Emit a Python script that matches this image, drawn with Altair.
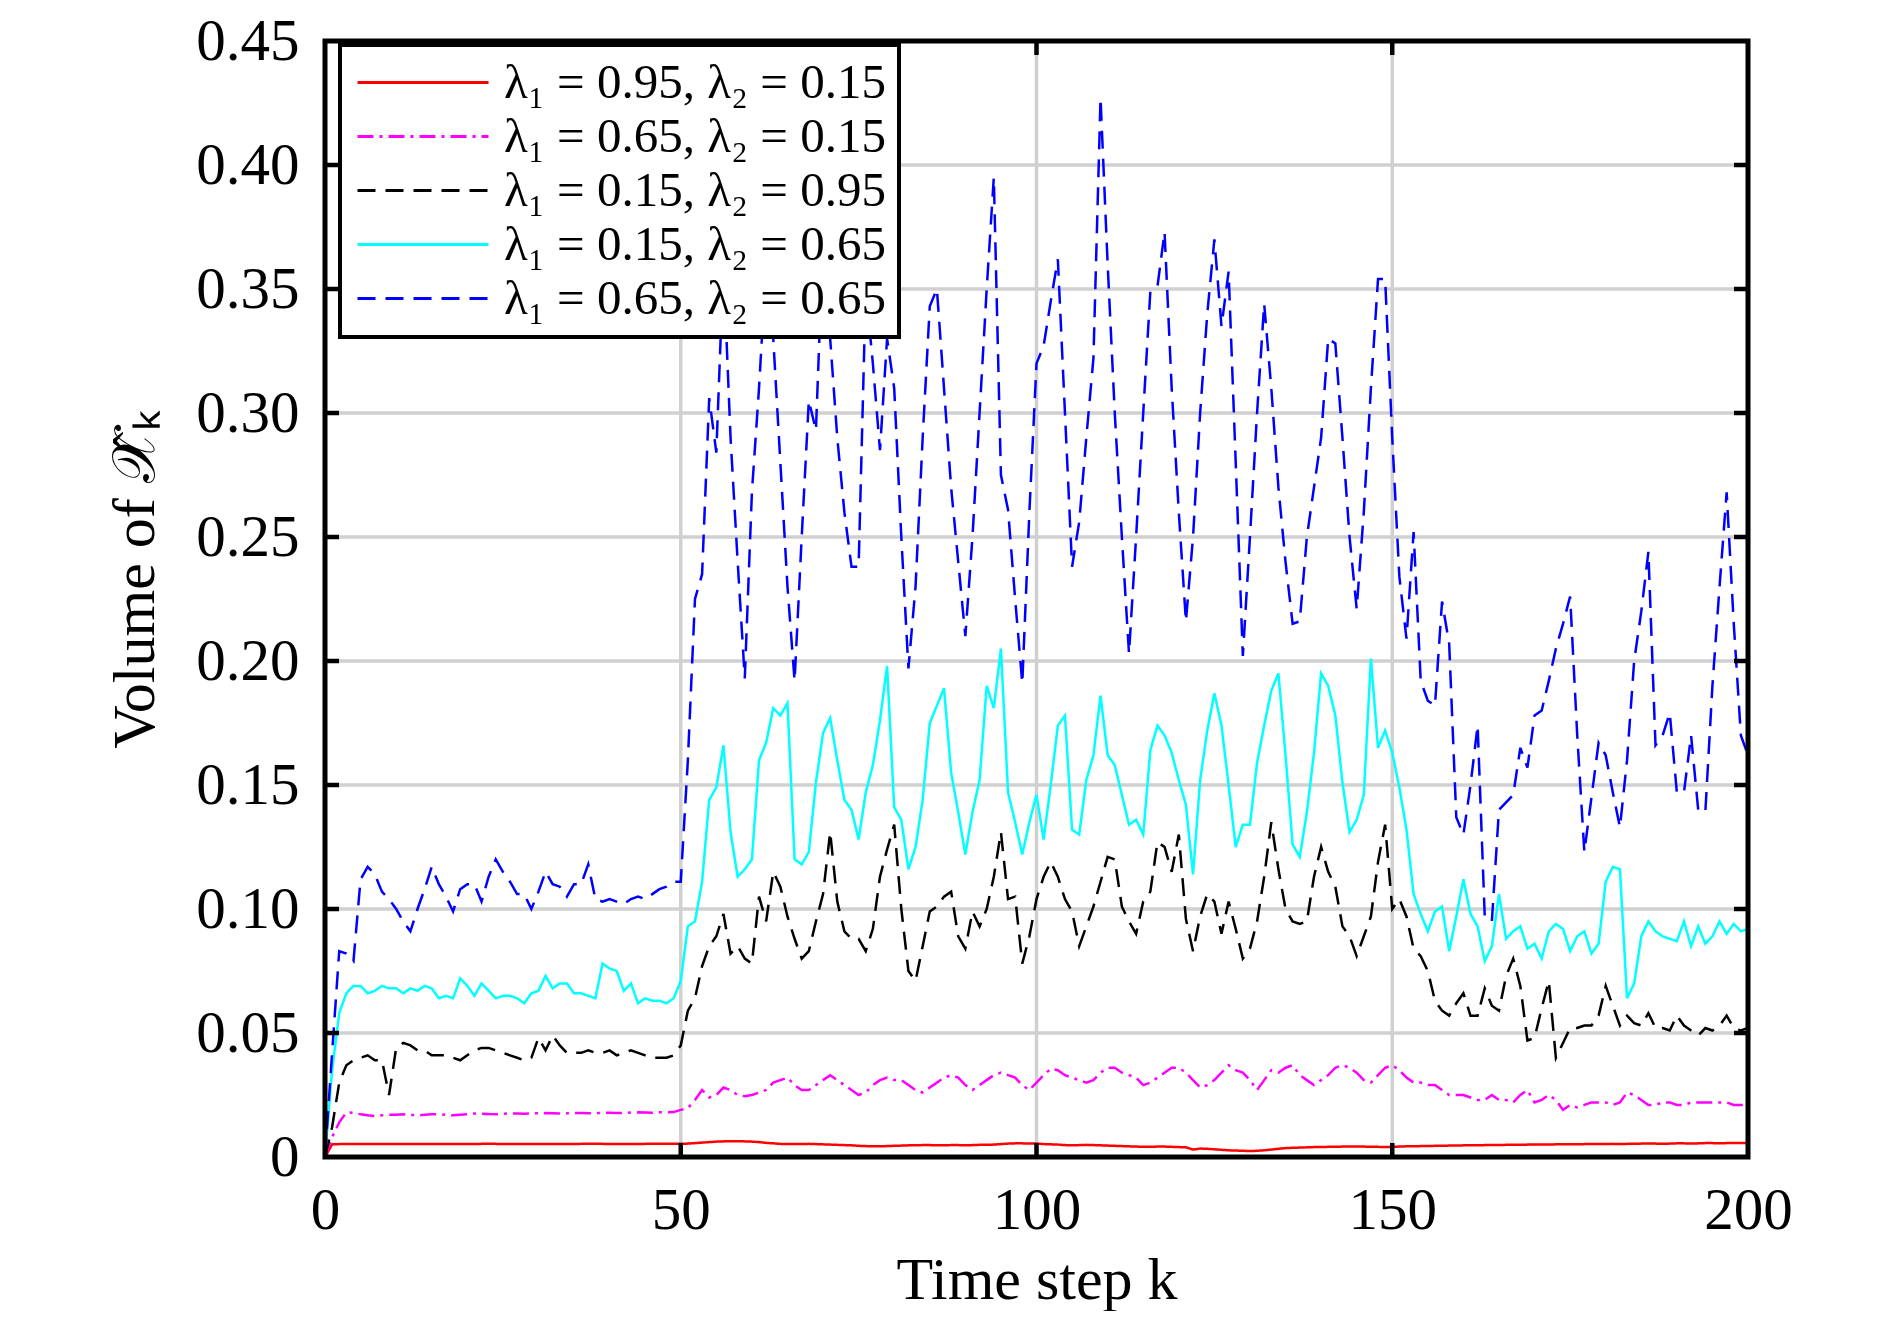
import altair as alt
import pandas as pd

# ---------------- data ----------------
steps = list(range(201))

series_names = [
    "λ₁ = 0.95, λ₂ = 0.15",
    "λ₁ = 0.65, λ₂ = 0.15",
    "λ₁ = 0.15, λ₂ = 0.95",
    "λ₁ = 0.15, λ₂ = 0.65",
    "λ₁ = 0.65, λ₂ = 0.65",
]
series_colors = ["#ff0000", "#ff00ff", "#000000", "#00ffff", "#0000ff"]

red = [
    0, 0.0051, 0.0052, 0.0052, 0.0052, 0.0052, 0.0052, 0.0052, 0.0052, 0.0052,
    0.0052, 0.0052, 0.0052, 0.0052, 0.0052, 0.0052, 0.0052, 0.0052, 0.0052, 0.0052,
    0.0052, 0.0052, 0.0053, 0.0053, 0.0053, 0.0052, 0.0052, 0.0052, 0.0052, 0.0052,
    0.0052, 0.0052, 0.0052, 0.0052, 0.0052, 0.0052, 0.0053, 0.0053, 0.0053, 0.0053,
    0.0052, 0.0052, 0.0052, 0.0052, 0.0052, 0.0053, 0.0053, 0.0053, 0.0053, 0.0053,
    0.0053,
    0.0054, 0.0056, 0.0058, 0.0060, 0.0062, 0.0063, 0.0064, 0.0064, 0.0063, 0.0062,
    0.0060, 0.0057, 0.0055, 0.0053, 0.0052, 0.0052, 0.0052, 0.0053, 0.0052, 0.0051,
    0.0050, 0.0049, 0.0048, 0.0047, 0.0045, 0.0044, 0.0043, 0.0043, 0.0044, 0.0045,
    0.0046, 0.0047, 0.0047, 0.0048, 0.0048, 0.0047, 0.0047, 0.0048, 0.0048, 0.0047,
    0.0048, 0.0049, 0.0049, 0.0050, 0.0052, 0.0054, 0.0055, 0.0055, 0.0054, 0.0054,
    0.0052, 0.0051, 0.0050, 0.0048, 0.0047, 0.0048, 0.0049, 0.0048, 0.0047, 0.0046,
    0.0045, 0.0044, 0.0043, 0.0042, 0.0041, 0.0041, 0.0042, 0.0042, 0.0041, 0.0040,
    0.0039, 0.0030, 0.0034, 0.0033, 0.0031, 0.0029, 0.0027, 0.0026, 0.0025, 0.0024,
    0.0025, 0.0027, 0.0030, 0.0033, 0.0036, 0.0037, 0.0038, 0.0039, 0.0040, 0.0040,
    0.0041, 0.0041, 0.0042, 0.0042, 0.0042, 0.0042, 0.0041, 0.0041, 0.0040, 0.0041,
    0.0042, 0.0043, 0.0043, 0.0044, 0.0044, 0.0045, 0.0045, 0.0046, 0.0046, 0.0047,
    0.0047, 0.0047, 0.0048, 0.0048, 0.0048, 0.0049, 0.0049, 0.0049, 0.0050, 0.0050,
    0.0050, 0.0050, 0.0051, 0.0051, 0.0051, 0.0051, 0.0052, 0.0052, 0.0052, 0.0052,
    0.0053, 0.0052, 0.0053, 0.0053, 0.0054, 0.0054, 0.0054, 0.0053, 0.0054, 0.0055,
    0.0055, 0.0054, 0.0055, 0.0056, 0.0056, 0.0055, 0.0056, 0.0056, 0.0056, 0.0056,
]

magenta = [
    0, 0.008, 0.014, 0.018, 0.0178, 0.0172, 0.0168, 0.0165, 0.0168, 0.017,
    0.017, 0.0172, 0.017, 0.0168, 0.017, 0.0172, 0.0172, 0.017, 0.0168, 0.017,
    0.0172, 0.0175, 0.0175, 0.0173, 0.0172, 0.0174, 0.0176, 0.0175, 0.0174, 0.0176,
    0.0176, 0.0177, 0.0176, 0.0175, 0.0176, 0.0178, 0.0177, 0.0176, 0.0177, 0.0178,
    0.0178, 0.0177, 0.0178, 0.0179, 0.018, 0.0179, 0.0178, 0.018, 0.018, 0.0181,
    0.019,
    0.0197, 0.023, 0.027, 0.024, 0.025, 0.028, 0.027, 0.025, 0.0245, 0.025,
    0.026, 0.027, 0.030, 0.031, 0.032, 0.029, 0.027, 0.027, 0.029, 0.031,
    0.033, 0.031, 0.029, 0.027, 0.025, 0.026, 0.029, 0.031, 0.032, 0.031,
    0.031, 0.029, 0.027, 0.026, 0.028, 0.030, 0.032, 0.033, 0.032, 0.029,
    0.027, 0.029, 0.031, 0.033, 0.034, 0.033, 0.032, 0.029, 0.027, 0.030,
    0.033, 0.0356, 0.035, 0.033, 0.032, 0.031, 0.030, 0.031, 0.034, 0.036,
    0.036, 0.034, 0.033, 0.032, 0.029, 0.030, 0.032, 0.034, 0.036, 0.036,
    0.034, 0.031, 0.028, 0.029, 0.031, 0.034, 0.037, 0.035, 0.034, 0.031,
    0.027, 0.031, 0.035, 0.034, 0.036, 0.037, 0.033, 0.031, 0.029, 0.031,
    0.033, 0.036, 0.037, 0.036, 0.034, 0.031, 0.030, 0.033, 0.036, 0.037,
    0.035, 0.032, 0.030, 0.030, 0.029, 0.029, 0.027, 0.025, 0.025, 0.025,
    0.024, 0.023, 0.023, 0.025, 0.023, 0.023, 0.022, 0.025, 0.027, 0.022,
    0.023, 0.025, 0.023, 0.019, 0.021, 0.020, 0.021, 0.022, 0.022, 0.022,
    0.021, 0.022, 0.026, 0.025, 0.023, 0.021, 0.021, 0.022, 0.022, 0.021,
    0.021, 0.022, 0.022, 0.022, 0.022, 0.022, 0.022, 0.021, 0.021, 0.021,
]

black = [
    0, 0.012, 0.030, 0.037, 0.039, 0.040, 0.041, 0.039, 0.039, 0.025,
    0.044, 0.046, 0.045, 0.043, 0.043, 0.041, 0.041, 0.041, 0.040, 0.039,
    0.041, 0.043, 0.044, 0.044, 0.043, 0.042, 0.041, 0.040, 0.039, 0.040,
    0.048, 0.043, 0.049, 0.045, 0.042, 0.042, 0.042, 0.043, 0.042, 0.042,
    0.043, 0.041, 0.042, 0.043, 0.042, 0.041, 0.040, 0.040, 0.040, 0.041,
    0.045,
    0.059, 0.064, 0.077, 0.085, 0.089, 0.098, 0.082, 0.085, 0.080, 0.078,
    0.105, 0.095, 0.115, 0.109, 0.097, 0.088, 0.080, 0.083, 0.095, 0.106,
    0.131, 0.103, 0.091, 0.088, 0.088, 0.083, 0.092, 0.113, 0.124, 0.134,
    0.100, 0.075, 0.071, 0.085, 0.099, 0.101, 0.105, 0.107, 0.089, 0.084,
    0.099, 0.093, 0.100, 0.113, 0.131, 0.104, 0.105, 0.078, 0.089, 0.104,
    0.113, 0.119, 0.113, 0.104, 0.099, 0.085, 0.093, 0.101, 0.111, 0.121,
    0.120, 0.101, 0.095, 0.090, 0.103, 0.107, 0.127, 0.125, 0.115, 0.130,
    0.096, 0.083, 0.097, 0.106, 0.103, 0.090, 0.103, 0.092, 0.080, 0.084,
    0.095, 0.113, 0.135, 0.116, 0.100, 0.095, 0.094, 0.095, 0.113, 0.125,
    0.115, 0.109, 0.093, 0.089, 0.081, 0.089, 0.097, 0.119, 0.134, 0.100,
    0.104, 0.097, 0.084, 0.081, 0.075, 0.063, 0.059, 0.057, 0.062, 0.066,
    0.057, 0.057, 0.068, 0.061, 0.059, 0.073, 0.080, 0.069, 0.047, 0.048,
    0.060, 0.071, 0.040, 0.046, 0.052, 0.052, 0.053, 0.053, 0.057, 0.069,
    0.061, 0.053, 0.057, 0.054, 0.053, 0.058, 0.052, 0.052, 0.051, 0.057,
    0.053, 0.051, 0.049, 0.052, 0.051, 0.053, 0.057, 0.052, 0.051, 0.052,
]

cyan = [
    0, 0.035, 0.058, 0.066, 0.069, 0.069, 0.066, 0.067, 0.069, 0.068,
    0.068, 0.066, 0.068, 0.067, 0.069, 0.068, 0.064, 0.065, 0.064, 0.072,
    0.069, 0.065, 0.070, 0.067, 0.064, 0.065, 0.065, 0.064, 0.062, 0.066,
    0.067, 0.073, 0.068, 0.070, 0.070, 0.066, 0.066, 0.065, 0.064, 0.078,
    0.076, 0.075, 0.067, 0.070, 0.062, 0.064, 0.063, 0.063, 0.062, 0.064,
    0.071,
    0.093, 0.095, 0.111, 0.144, 0.149, 0.166, 0.131, 0.113, 0.116, 0.120,
    0.160, 0.167, 0.181, 0.178, 0.183, 0.120, 0.118, 0.123, 0.151, 0.171,
    0.177, 0.160, 0.144, 0.140, 0.128, 0.147, 0.158, 0.176, 0.198, 0.141,
    0.136, 0.116, 0.125, 0.144, 0.175, 0.182, 0.189, 0.155, 0.139, 0.122,
    0.139, 0.152, 0.190, 0.181, 0.205, 0.147, 0.135, 0.122, 0.135, 0.146,
    0.128, 0.150, 0.174, 0.178, 0.132, 0.130, 0.152, 0.162, 0.186, 0.162,
    0.158, 0.146, 0.134, 0.136, 0.130, 0.164, 0.174, 0.170, 0.163, 0.152,
    0.142, 0.114, 0.152, 0.172, 0.187, 0.174, 0.150, 0.125, 0.134, 0.134,
    0.159, 0.174, 0.188, 0.195, 0.162, 0.126, 0.121, 0.139, 0.163, 0.195,
    0.190, 0.178, 0.151, 0.131, 0.136, 0.146, 0.201, 0.165, 0.172, 0.163,
    0.149, 0.132, 0.106, 0.098, 0.091, 0.099, 0.101, 0.083, 0.097, 0.112,
    0.098, 0.093, 0.079, 0.085, 0.106, 0.088, 0.091, 0.093, 0.084, 0.086,
    0.080, 0.091, 0.094, 0.092, 0.083, 0.089, 0.091, 0.082, 0.086, 0.111,
    0.117, 0.116, 0.064, 0.070, 0.089, 0.095, 0.091, 0.089, 0.088, 0.087,
    0.095, 0.085, 0.093, 0.086, 0.089, 0.095, 0.090, 0.094, 0.091, 0.092,
]

blue = [
    0, 0.042, 0.083, 0.082, 0.079, 0.112, 0.117, 0.114, 0.107, 0.104,
    0.100, 0.095, 0.091, 0.100, 0.108, 0.117, 0.110, 0.105, 0.099, 0.108,
    0.110, 0.110, 0.103, 0.113, 0.120, 0.115, 0.111, 0.106, 0.106, 0.100,
    0.107, 0.115, 0.110, 0.109, 0.105, 0.110, 0.110, 0.118, 0.104, 0.103,
    0.104, 0.103, 0.102, 0.104, 0.105, 0.104, 0.106, 0.108, 0.109, 0.111,
    0.111,
    0.160, 0.225, 0.235, 0.306, 0.284, 0.360, 0.290, 0.240, 0.193, 0.268,
    0.310, 0.360, 0.330, 0.280, 0.230, 0.192, 0.250, 0.305, 0.293, 0.370,
    0.330, 0.290, 0.260, 0.238, 0.238, 0.350, 0.320, 0.285, 0.330, 0.310,
    0.250, 0.197, 0.230, 0.290, 0.343, 0.350, 0.310, 0.270, 0.240, 0.210,
    0.250, 0.300, 0.350, 0.395, 0.275, 0.261, 0.225, 0.191, 0.260, 0.320,
    0.327, 0.345, 0.362, 0.300, 0.238, 0.256, 0.290, 0.322, 0.427, 0.360,
    0.300, 0.250, 0.203, 0.250, 0.300, 0.349, 0.351, 0.373, 0.310, 0.260,
    0.216, 0.250, 0.300, 0.340, 0.370, 0.335, 0.357, 0.280, 0.202, 0.250,
    0.300, 0.344, 0.310, 0.270, 0.240, 0.215, 0.216, 0.250, 0.270, 0.290,
    0.330, 0.328, 0.290, 0.250, 0.221, 0.260, 0.310, 0.354, 0.354, 0.290,
    0.234, 0.209, 0.252, 0.192, 0.184, 0.182, 0.224, 0.207, 0.137, 0.130,
    0.150, 0.174, 0.097, 0.095, 0.140, 0.143, 0.146, 0.165, 0.157, 0.178,
    0.180, 0.192, 0.205, 0.215, 0.226, 0.170, 0.123, 0.145, 0.167, 0.162,
    0.147, 0.133, 0.160, 0.200, 0.220, 0.244, 0.166, 0.170, 0.179, 0.147,
    0.147, 0.170, 0.140, 0.139, 0.190, 0.230, 0.268, 0.215, 0.170, 0.162,
]

x_ticks = [0, 50, 100, 150, 200]
y_ticks = [0, 0.05, 0.10, 0.15, 0.20, 0.25, 0.30, 0.35, 0.40, 0.45]
x_grid = [50, 100, 150]
y_grid = [0.05, 0.10, 0.15, 0.20, 0.25, 0.30, 0.35, 0.40]

# ---------------- build table ----------------
rows = []
for name, vals in zip(series_names, [red, magenta, black, cyan, blue]):
    for k, v in zip(steps, vals):
        rows.append({"k": k, "v": v, "series": name})
df = pd.DataFrame(rows)

W, H = 1423, 1116
FONT = "Liberation Serif"
FS = 59
xs = alt.Scale(domain=[0, 200], nice=False, zero=False)
ys = alt.Scale(domain=[0, 0.45], nice=False, zero=True)

x_axis = alt.Axis(values=x_ticks, title="Time step k", grid=False,
                  domain=False, ticks=False, tickSize=0,
                  labelPadding=71, labelBaseline="alphabetic",
                  labelFlush=False, labelFont=FONT, labelFontSize=FS,
                  labelColor="black", titleFont=FONT, titleFontSize=FS + 1,
                  titleFontWeight="normal", titleColor="black",
                  titleX=W / 2, titleY=141, titleBaseline="alphabetic",
                  titleAnchor="middle")
y_axis = alt.Axis(values=y_ticks, title="Volume of 𝒳̂ₖ", grid=False,
                  domain=False, ticks=False, tickSize=0,
                  labelPadding=26, labelBaseline="middle",
                  labelFlush=False, labelFont=FONT, labelFontSize=FS,
                  labelColor="black", titleFont=FONT, titleFontSize=FS + 1,
                  titleFontWeight="normal", titleColor="black",
                  labelExpr="datum.value == 0 ? '0' : format(datum.value, '.2f')",
                  titleX=-172, titleY=538, titleAngle=270,
                  titleBaseline="alphabetic", titleAlign="center")

dash_range = [[1, 0], [16, 6, 3, 6], [18, 10], [1, 0], [18, 10]]

# legend symbol: a horizontal line starting at the symbol box's left edge
SYM_SIZE = 1600          # symbol box 40 px
SYM_PATH = "M-1,0H5.55"  # ~131 px long line


def make_legend():
    return alt.Legend(title=None, orient="none", legendX=15, legendY=4,
                      symbolType=SYM_PATH, symbolSize=SYM_SIZE,
                      symbolStrokeWidth=3, labelFont=FONT,
                      labelFontSize=49, labelColor="black",
                      labelOffset=102, rowPadding=4, padding=13,
                      fillColor="white", strokeColor="black",
                      labelLimit=0)


lines = alt.Chart(df).mark_line(strokeWidth=2.5, clip=True).encode(
    x=alt.X("k:Q", scale=xs, axis=x_axis),
    y=alt.Y("v:Q", scale=ys, axis=y_axis),
    color=alt.Color("series:N",
                    scale=alt.Scale(domain=series_names, range=series_colors),
                    legend=make_legend()),
    strokeDash=alt.StrokeDash("series:N",
                              scale=alt.Scale(domain=series_names, range=dash_range),
                              legend=make_legend()),
    order=alt.Order("k:Q"),
)

GRID = "#d0d0d0"
ygrid = alt.Chart(pd.DataFrame({"g": y_grid})).mark_rule(color=GRID, strokeWidth=3.5).encode(
    y=alt.Y("g:Q", scale=ys, axis=y_axis), x=alt.value(0), x2=alt.value(W))
xgrid = alt.Chart(pd.DataFrame({"g": x_grid})).mark_rule(color=GRID, strokeWidth=3.5).encode(
    x=alt.X("g:Q", scale=xs, axis=x_axis), y=alt.value(0), y2=alt.value(H))

TL = 14
yt_df = pd.DataFrame({"g": y_grid})
xt_df = pd.DataFrame({"g": x_grid})
ytick_l = alt.Chart(yt_df).mark_rule(color="black", strokeWidth=4.5).encode(
    y=alt.Y("g:Q", scale=ys, axis=y_axis), x=alt.value(0), x2=alt.value(TL))
ytick_r = alt.Chart(yt_df).mark_rule(color="black", strokeWidth=4.5).encode(
    y=alt.Y("g:Q", scale=ys, axis=y_axis), x=alt.value(W - TL), x2=alt.value(W))
xtick_b = alt.Chart(xt_df).mark_rule(color="black", strokeWidth=4.5).encode(
    x=alt.X("g:Q", scale=xs, axis=x_axis), y=alt.value(H - TL), y2=alt.value(H))
xtick_t = alt.Chart(xt_df).mark_rule(color="black", strokeWidth=4.5).encode(
    x=alt.X("g:Q", scale=xs, axis=x_axis), y=alt.value(0), y2=alt.value(TL))

frame = alt.Chart(pd.DataFrame({"a": [0]})).mark_rect(
    filled=False, stroke="black", strokeWidth=5).encode(
    x=alt.value(0), x2=alt.value(W), y=alt.value(0), y2=alt.value(H))

chart = alt.layer(ygrid, xgrid, lines, ytick_l, ytick_r, xtick_b, xtick_t, frame).properties(
    width=W, height=H,
    background="white",
    autosize=alt.AutoSizeParams(type="none"),
    padding={"left": 317, "top": 33, "right": 60, "bottom": 154},
).configure_view(stroke=None).configure_legend(strokeWidth=4)

chart.save("out.html", embed_options={"renderer": "svg", "actions": False})
